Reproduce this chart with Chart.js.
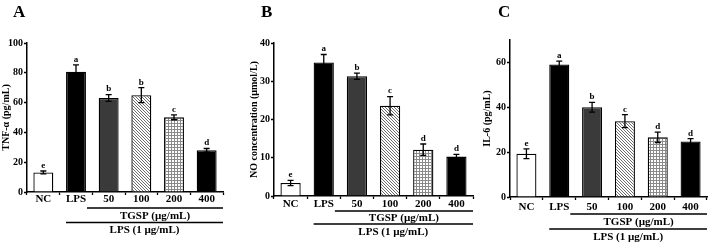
<!DOCTYPE html>
<html>
<head>
<meta charset="utf-8">
<script src="https://cdn.jsdelivr.net/npm/chart.js@4.4.1/dist/chart.umd.min.js"></script>
<style>
    html, body { margin: 0; padding: 0; background: #fff; }
    #wrap { position: relative; width: 709px; height: 243px; overflow: hidden; }
    #wrap canvas { position: absolute; top: 0; }
</style>
</head>
<body>
<div id="wrap">
    <canvas id="panelA" width="236" height="243" style="left:0px"></canvas>
    <canvas id="panelB" width="240" height="243" style="left:236px"></canvas>
    <canvas id="panelC" width="233" height="243" style="left:476px"></canvas>
</div>
<script>
// categories shared by all three panels
const categories = ['NC', 'LPS', '50', '100', '200', '400'];
const groupInner = 'TGSP (\u00b5g/mL)';
const groupOuter = 'LPS (1 \u00b5g/mL)';

// A - TNF-alpha
const tnfValues = [13.1, 80.7, 63.1, 65.0, 50.1, 28.0];
const tnfErrors = [1.0, 4.6, 2.3, 5.0, 1.6, 1.2];
const tnfLetters = ['e', 'a', 'b', 'b', 'c', 'd'];
const tnfTicks = [0, 20, 40, 60, 80, 100];

// B - NO
const noValues = [3.4, 34.9, 31.3, 23.6, 12.1, 10.3];
const noErrors = [0.7, 2.1, 0.8, 2.4, 1.5, 0.6];
const noLetters = ['e', 'a', 'b', 'c', 'd', 'd'];
const noTicks = [0, 10, 20, 30, 40];

// C - IL-6
const il6Values = [19.3, 59.1, 40.0, 33.8, 26.6, 24.8];
const il6Errors = [2.2, 1.5, 2.2, 2.9, 2.3, 1.2];
const il6Letters = ['e', 'a', 'b', 'c', 'd', 'd'];
const il6Ticks = [0, 20, 40, 60];

const FONT = "'Liberation Serif', 'Times New Roman', serif";

function hatchPattern() {
    const c = document.createElement('canvas');
    c.width = 3; c.height = 3;
    const g = c.getContext('2d');
    g.fillStyle = '#fff';
    g.fillRect(0, 0, 3, 3);
    // one dark pixel per row, shifted each row -> "\" diagonals
    g.fillStyle = '#6e6e6e';
    g.fillRect(0, 0, 1, 1);
    g.fillRect(1, 1, 1, 1);
    g.fillRect(2, 2, 1, 1);
    return g.createPattern(c, 'repeat');
}

function gridPattern() {
    const c = document.createElement('canvas');
    c.width = 3; c.height = 3;
    const g = c.getContext('2d');
    g.fillStyle = '#fff';
    g.fillRect(0, 0, 3, 3);
    g.fillStyle = '#8a8a8a';
    g.fillRect(0, 0, 3, 1);
    g.fillRect(0, 0, 1, 3);
    return g.createPattern(c, 'repeat');
}

function barFills() {
    return ['#ffffff', '#000000', '#3a3a3a', hatchPattern(), gridPattern(), '#000000'];
}

// error bars, letters, group brackets and panel letter
const annotate = {
    id: 'annotate',
    afterDatasetsDraw(chart, args, opts) {
        const ctx = chart.ctx;
        const yScale = chart.scales.y;
        const meta = chart.getDatasetMeta(0);
        ctx.save();
        ctx.strokeStyle = '#000';
        ctx.fillStyle = '#000';
        ctx.lineWidth = 1.3;
        meta.data.forEach((bar, i) => {
            const v = opts.values[i];
            const e = opts.errors[i];
            const top = yScale.getPixelForValue(v + e);
            const bot = yScale.getPixelForValue(v - e);
            ctx.beginPath();
            ctx.moveTo(bar.x, top); ctx.lineTo(bar.x, bot);
            ctx.moveTo(bar.x - 3, top); ctx.lineTo(bar.x + 3, top);
            ctx.moveTo(bar.x - 3, bot); ctx.lineTo(bar.x + 3, bot);
            ctx.stroke();
            ctx.font = 'bold 9px ' + FONT;
            ctx.textAlign = 'center';
            ctx.textBaseline = 'bottom';
            ctx.fillText(opts.letters[i], bar.x, top - 1);
        });
        ctx.restore();
    },
    afterDraw(chart, args, opts) {
        const ctx = chart.ctx;
        const area = chart.chartArea;
        const lps = chart.getDatasetMeta(0).data[1];
        const half = lps.width / 2;
        const right = area.right;
        ctx.save();
        ctx.strokeStyle = '#000';
        ctx.fillStyle = '#000';
        ctx.lineWidth = 1.3;

        const innerX = lps.x + half + 1;
        const outerX = lps.x - half;
        const b = area.bottom;
        ctx.beginPath();
        ctx.moveTo(innerX, b + opts.innerLine); ctx.lineTo(right, b + opts.innerLine);
        ctx.moveTo(outerX, b + opts.outerLine); ctx.lineTo(right, b + opts.outerLine);
        ctx.stroke();

        ctx.font = 'bold 11px ' + FONT;
        ctx.textAlign = 'center';
        ctx.textBaseline = 'middle';
        ctx.fillText(groupInner, (innerX + right) / 2, b + opts.innerText);
        ctx.fillText(groupOuter, (outerX + right) / 2, b + opts.outerText);

        ctx.font = 'bold 17px ' + FONT;
        ctx.textAlign = 'left';
        ctx.textBaseline = 'alphabetic';
        ctx.fillText(opts.tag, opts.tagX, 17);
        ctx.restore();
    }
};

function makePanel(id, p) {
    const axisGrid = {
        drawOnChartArea: false,
        drawTicks: true,
        tickLength: 3,
        tickColor: '#000',
        tickWidth: 1.3
    };
    return new Chart(document.getElementById(id), {
        type: 'bar',
        data: {
            labels: categories,
            datasets: [{
                data: p.values,
                backgroundColor: barFills(),
                borderColor: '#000',
                borderWidth: 1.3,
                categoryPercentage: 1,
                barPercentage: 0.61
            }]
        },
        options: {
            responsive: false,
            animation: false,
            devicePixelRatio: 1,
            layout: {
                padding: { left: p.padLeft, right: p.padRight, top: p.padTop, bottom: 0 }
            },
            plugins: {
                legend: { display: false },
                tooltip: { enabled: false },
                annotate: p
            },
            scales: {
                x: {
                    offset: true,
                    border: { color: '#000', width: 1.5 },
                    grid: axisGrid,
                    ticks: {
                        color: '#000',
                        padding: p.xPad,
                        font: { family: FONT, size: 11, weight: 'bold' }
                    },
                    afterFit: s => { s.height = p.xHeight; }
                },
                y: {
                    min: 0,
                    max: p.max,
                    border: { color: '#000', width: 1.5 },
                    grid: axisGrid,
                    afterBuildTicks: s => {
                        s.ticks = p.ticks.map(v => ({ value: v }));
                    },
                    ticks: {
                        color: '#000',
                        padding: 1,
                        font: { family: FONT, size: 10, weight: 'bold' }
                    },
                    title: {
                        display: true,
                        text: p.yTitle,
                        color: '#000',
                        padding: 0,
                        font: { family: FONT, size: 10, weight: 'bold' }
                    },
                    afterFit: s => { s.width = p.yWidth; }
                }
            }
        },
        plugins: [annotate]
    });
}

makePanel('panelA', {
    values: tnfValues, errors: tnfErrors, letters: tnfLetters, ticks: tnfTicks,
    max: 100, yTitle: 'TNF-\u03b1 (pg/mL)', tag: 'A', tagX: 13,
    padLeft: 0, yWidth: 27, padRight: 13, padTop: 43, xHeight: 51, xPad: -2,
    innerLine: 16, innerText: 24, outerLine: 30.5, outerText: 38.5
});

makePanel('panelB', {
    values: noValues, errors: noErrors, letters: noLetters, ticks: noTicks,
    max: 40, yTitle: 'NO concentration (\u00b5mol/L)', tag: 'B', tagX: 25,
    padLeft: 12, yWidth: 26, padRight: 3, padTop: 43, xHeight: 47, xPad: -1,
    innerLine: 15, innerText: 22, outerLine: 28, outerText: 36
});

makePanel('panelC', {
    values: il6Values, errors: il6Errors, letters: il6Letters, ticks: il6Ticks,
    max: 70, yTitle: 'IL-6 (pg/mL)', tag: 'C', tagX: 22,
    padLeft: 5, yWidth: 29, padRight: 2, padTop: 40, xHeight: 46, xPad: 1,
    innerLine: 17, innerText: 25, outerLine: 32, outerText: 40
});
</script>
</body>
</html>
